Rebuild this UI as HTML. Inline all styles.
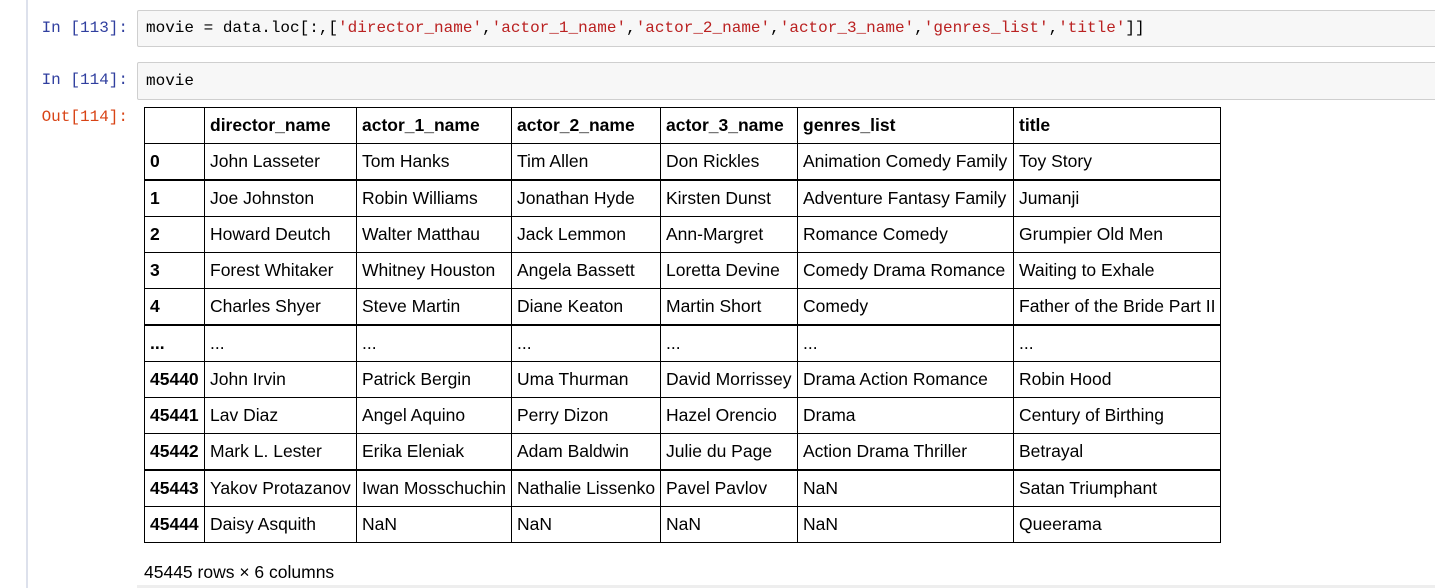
<!DOCTYPE html>
<html><head><meta charset="utf-8"><style>
body{margin:0;width:1435px;height:588px;background:#fff;position:relative;overflow:hidden;font-family:"Liberation Sans",Arial,sans-serif}
.vl{position:absolute;left:26px;top:0;width:2px;height:588px;background:#dde1ec}
.pr{position:absolute;font-family:"Liberation Mono",monospace;font-size:16px;text-align:right;width:128px;left:0}
.in{position:absolute;left:137px;width:1310px;background:#f7f7f7;border:1px solid #cfcfcf;border-radius:2px;box-sizing:border-box;font-family:"Liberation Mono",monospace;font-size:16px;padding-left:8px}
.s{color:#ba2121}
table{position:absolute;left:144px;top:107px;border-collapse:collapse;table-layout:fixed;font-size:17.5px;color:#000}
td{border:1px solid #000;padding:0 0 0 5px;height:35px;white-space:nowrap;overflow:hidden}
tr.t td{border-top:2px solid #000}
th{border:1px solid #000;padding:0 0 0 5px;height:35px;text-align:left;font-weight:bold}
td.b{font-weight:bold}
.foot{position:absolute;left:144px;top:562px;font-size:17.5px}
.bar{position:absolute;left:137px;top:585px;width:1300px;height:3px;background:#eee}
</style></head><body>
<div class="vl"></div>
<div class="pr" style="top:19px;color:#303f9f">In [113]:</div>
<div class="in" style="top:10px;height:37px;line-height:35px">movie = data.loc[:,[<span class="s">'director_name'</span>,<span class="s">'actor_1_name'</span>,<span class="s">'actor_2_name'</span>,<span class="s">'actor_3_name'</span>,<span class="s">'genres_list'</span>,<span class="s">'title'</span>]]</div>
<div class="pr" style="top:71px;color:#303f9f">In [114]:</div>
<div class="in" style="top:62px;height:38px;line-height:36px">movie</div>
<div class="pr" style="top:108px;color:#d84315">Out[114]:</div>
<table>
<colgroup><col style="width:60px"><col style="width:152px"><col style="width:155px"><col style="width:149px"><col style="width:137px"><col style="width:216px"><col style="width:207px"></colgroup>
<tr><th></th><th>director_name</th><th>actor_1_name</th><th>actor_2_name</th><th>actor_3_name</th><th>genres_list</th><th>title</th></tr>
<tr><td class="b">0</td><td>John Lasseter</td><td>Tom Hanks</td><td>Tim Allen</td><td>Don Rickles</td><td>Animation Comedy Family</td><td>Toy Story</td></tr>
<tr class="t"><td class="b">1</td><td>Joe Johnston</td><td>Robin Williams</td><td>Jonathan Hyde</td><td>Kirsten Dunst</td><td>Adventure Fantasy Family</td><td>Jumanji</td></tr>
<tr><td class="b">2</td><td>Howard Deutch</td><td>Walter Matthau</td><td>Jack Lemmon</td><td>Ann-Margret</td><td>Romance Comedy</td><td>Grumpier Old Men</td></tr>
<tr><td class="b">3</td><td>Forest Whitaker</td><td>Whitney Houston</td><td>Angela Bassett</td><td>Loretta Devine</td><td>Comedy Drama Romance</td><td>Waiting to Exhale</td></tr>
<tr><td class="b">4</td><td>Charles Shyer</td><td>Steve Martin</td><td>Diane Keaton</td><td>Martin Short</td><td>Comedy</td><td>Father of the Bride Part II</td></tr>
<tr class="t"><td class="b">...</td><td>...</td><td>...</td><td>...</td><td>...</td><td>...</td><td>...</td></tr>
<tr><td class="b">45440</td><td>John Irvin</td><td>Patrick Bergin</td><td>Uma Thurman</td><td>David Morrissey</td><td>Drama Action Romance</td><td>Robin Hood</td></tr>
<tr><td class="b">45441</td><td>Lav Diaz</td><td>Angel Aquino</td><td>Perry Dizon</td><td>Hazel Orencio</td><td>Drama</td><td>Century of Birthing</td></tr>
<tr><td class="b">45442</td><td>Mark L. Lester</td><td>Erika Eleniak</td><td>Adam Baldwin</td><td>Julie du Page</td><td>Action Drama Thriller</td><td>Betrayal</td></tr>
<tr class="t"><td class="b">45443</td><td>Yakov Protazanov</td><td>Iwan Mosschuchin</td><td>Nathalie Lissenko</td><td>Pavel Pavlov</td><td>NaN</td><td>Satan Triumphant</td></tr>
<tr><td class="b">45444</td><td>Daisy Asquith</td><td>NaN</td><td>NaN</td><td>NaN</td><td>NaN</td><td>Queerama</td></tr>
</table>
<div class="foot">45445 rows × 6 columns</div>
<div class="bar"></div>
</body></html>
